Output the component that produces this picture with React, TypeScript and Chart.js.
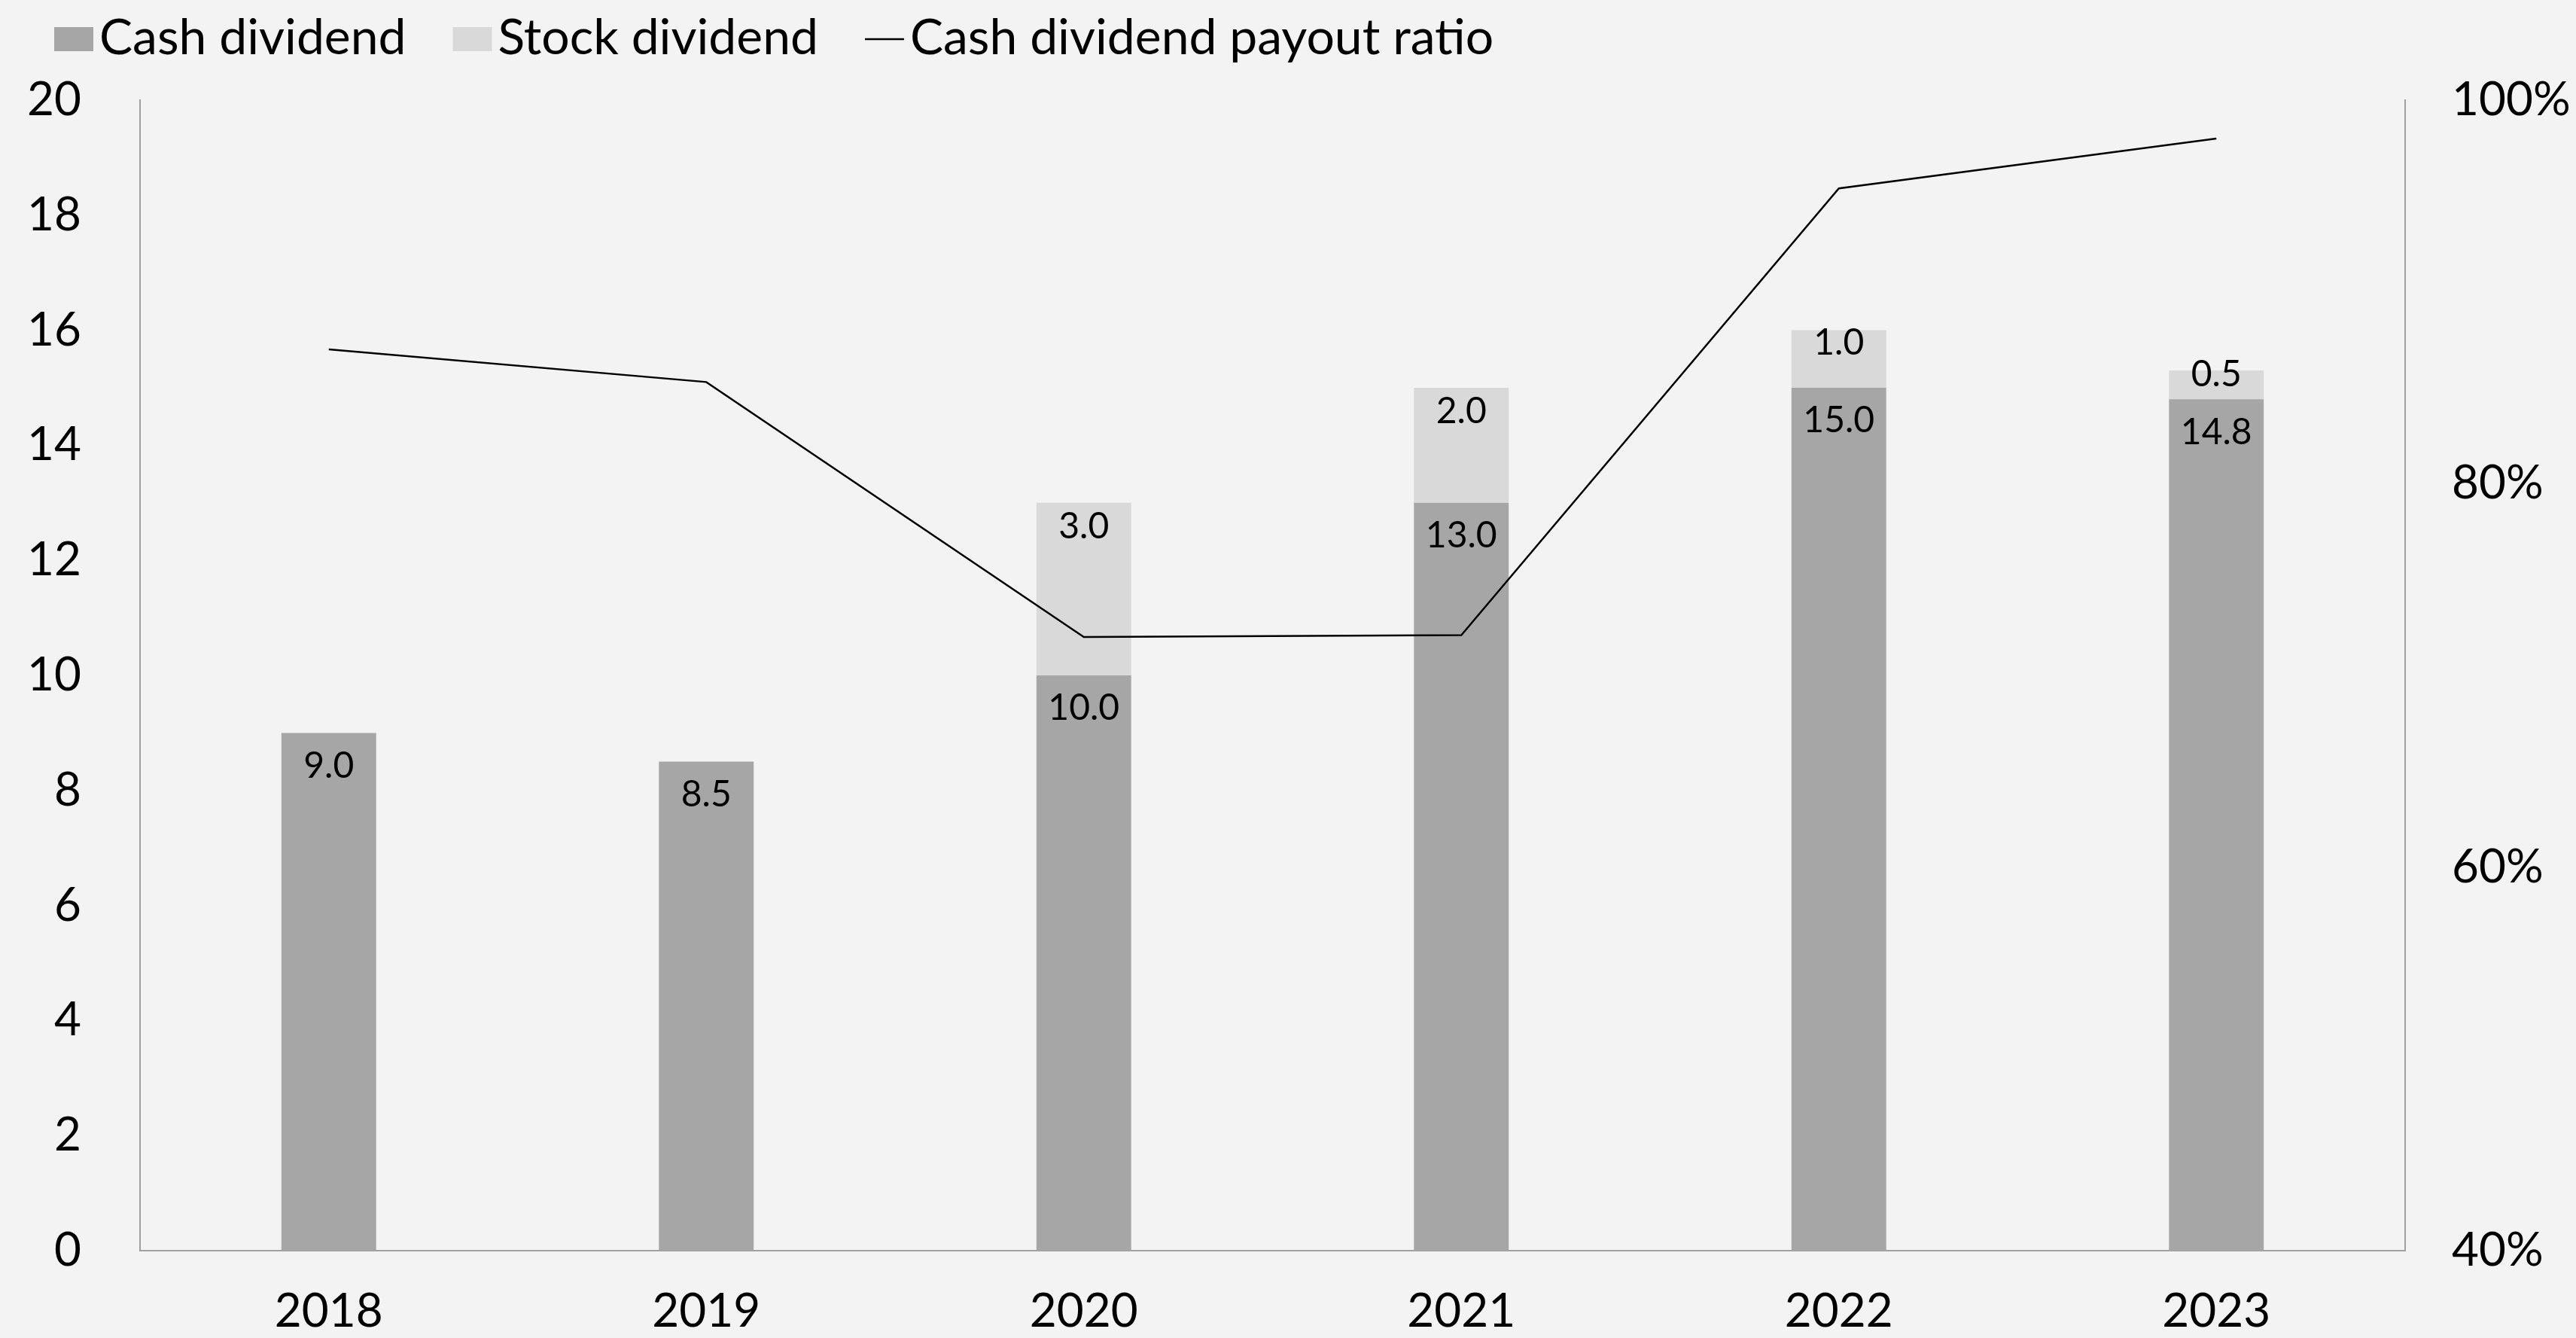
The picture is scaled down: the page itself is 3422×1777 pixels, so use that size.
import React, { useEffect, useRef } from "react";
import { Chart, registerables } from "chart.js";

Chart.register(...registerables);

// ---- data ----
const years = ["2018", "2019", "2020", "2021", "2022", "2023"];
const cashDividend = [9.0, 8.5, 10.0, 13.0, 15.0, 14.8];
const stockDividend = [0, 0, 3.0, 2.0, 1.0, 0.5];
const payoutRatio = [87.0, 85.3, 72.0, 72.1, 95.4, 98.0];
const seriesNames = ["Cash dividend", "Stock dividend", "Cash dividend payout ratio"];
const leftAxisRange = [0, 20, 2];
const rightAxisRange = [40, 100, 20];

const FONT = "Lato, 'Open Sans', sans-serif";
const BG = "#f3f3f3";
const CASH = "#a6a6a6";
const STOCK = "#d9d9d9";
const AXIS = "#a0a0a0";
const TEXT = "#000000";

const legendPlugin = {
  id: "customLegend",
  afterDraw(chart: any) {
    const ctx = chart.ctx;
    ctx.save();
    ctx.font = `66px ${FONT}`;
    ctx.fillStyle = TEXT;
    ctx.textBaseline = "alphabetic";
    ctx.textAlign = "left";
    let x = 72;
    const boxW = 52;
    const boxTop = 36;
    const boxH = 32;
    const baseline = 72;
    chart.data.datasets.forEach((ds: any) => {
      if (ds.type === "line") {
        ctx.strokeStyle = ds.borderColor;
        ctx.lineWidth = ds.borderWidth;
        ctx.beginPath();
        ctx.moveTo(x, boxTop + boxH / 2);
        ctx.lineTo(x + boxW, boxTop + boxH / 2);
        ctx.stroke();
      } else {
        ctx.fillStyle = ds.backgroundColor;
        ctx.fillRect(x, boxTop, boxW, boxH);
      }
      x += boxW + 8;
      ctx.fillStyle = TEXT;
      ctx.fillText(ds.label, x, baseline);
      x += ctx.measureText(ds.label).width + 62;
    });
    ctx.restore();
  },
};

const labelPlugin = {
  id: "barLabels",
  afterDatasetsDraw(chart: any) {
    const ctx = chart.ctx;
    ctx.save();
    ctx.font = `48px ${FONT}`;
    ctx.fillStyle = TEXT;
    ctx.textAlign = "center";
    ctx.textBaseline = "middle";
    [0, 1].forEach((di) => {
      const meta = chart.getDatasetMeta(di);
      const values = chart.data.datasets[di].data;
      meta.data.forEach((el: any, i: number) => {
        const v = values[i];
        if (!v) return;
        const h = el.base - el.y;
        const off = di === 0 ? 44 : Math.max(2, Math.min(32, 0.3 * h - 6));
        ctx.fillText(v.toFixed(1), el.x, el.y + off);
      });
    });
    ctx.restore();
  },
};

export default function App() {
  const ref = useRef<HTMLCanvasElement | null>(null);
  useEffect(() => {
    if (!ref.current) return;
    const chart = new Chart(ref.current, {
      type: "bar",
      data: {
        labels: years,
        datasets: [
          {
            type: "bar",
            label: seriesNames[0],
            data: cashDividend,
            backgroundColor: CASH,
            borderWidth: 0,
            barPercentage: 0.251,
            categoryPercentage: 1,
            stack: "div",
            yAxisID: "y",
            order: 2,
          },
          {
            type: "bar",
            label: seriesNames[1],
            data: stockDividend,
            backgroundColor: STOCK,
            borderWidth: 0,
            barPercentage: 0.251,
            categoryPercentage: 1,
            stack: "div",
            yAxisID: "y",
            order: 2,
          },
          {
            type: "line",
            label: seriesNames[2],
            data: payoutRatio,
            borderColor: "#000000",
            backgroundColor: "#000000",
            borderWidth: 2.5,
            pointRadius: 0,
            tension: 0,
            yAxisID: "y1",
            order: 1,
          },
        ] as any,
      },
      options: {
        responsive: false,
        animation: false,
        devicePixelRatio: 1,
        layout: { padding: { top: 133, left: 0, right: 0, bottom: 0 } },
        plugins: {
          legend: { display: false },
          tooltip: { enabled: false },
        },
        scales: {
          x: {
            stacked: true,
            grid: { display: true, drawOnChartArea: false, drawTicks: false },
            border: { display: true, color: AXIS, width: 2 },
            ticks: { color: TEXT, font: { family: FONT, size: 62 }, padding: 44 },
            afterFit: (s: any) => {
              s.height = 116;
            },
          },
          y: {
            stacked: true,
            position: "left",
            min: leftAxisRange[0],
            max: leftAxisRange[1],
            grid: { display: true, drawOnChartArea: false, drawTicks: false },
            border: { display: true, color: AXIS, width: 2 },
            ticks: {
              stepSize: leftAxisRange[2],
              color: TEXT,
              font: { family: FONT, size: 62 },
              padding: 78,
            },
            afterFit: (s: any) => {
              s.width = 186;
            },
          },
          y1: {
            position: "right",
            min: rightAxisRange[0],
            max: rightAxisRange[1],
            grid: { display: true, drawOnChartArea: false, drawTicks: false },
            border: { display: true, color: AXIS, width: 2 },
            ticks: {
              stepSize: rightAxisRange[2],
              color: TEXT,
              font: { family: FONT, size: 62 },
              padding: 62,
              callback: (v: any) => `${v}%`,
            },
            afterFit: (s: any) => {
              s.width = 227;
            },
          },
        },
      },
      plugins: [labelPlugin, legendPlugin],
    });
    return () => chart.destroy();
  }, []);
  return (
    <div
      style={{
        position: "fixed",
        left: 0,
        top: 0,
        width: 3422,
        height: 1777,
        background: BG,
      }}
    >
      <canvas ref={ref} width={3422} height={1777} style={{ display: "block" }} />
    </div>
  );
}
